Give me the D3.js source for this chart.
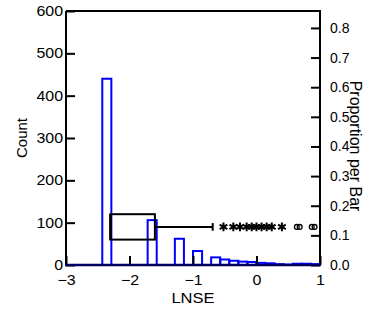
<!DOCTYPE html>
<html>
<head>
<meta charset="utf-8">
<script src="https://cdn.jsdelivr.net/npm/d3@7"></script>
<style>
  html, body { margin: 0; padding: 0; background: #fff; }
  svg { display: block; }
  text { font-family: "Liberation Sans", Arial, sans-serif; fill: #000; }
</style>
</head>
<body>
<svg id="chart" width="366" height="309"></svg>
<script>
// ---- data ----
const binWidth = 1 / 7;
const binStarts = [-2.4286, -1.7143, -1.2857, -1.0, -0.7143, -0.5714, -0.4286, -0.2857, -0.1429, 0.0, 0.1429, 0.2857, 0.4286, 0.5714, 0.7143, 0.8571];
const counts    = [440, 106, 62, 33, 18, 13, 10, 8, 7, 5, 4, 2, 1, 3, 3, 2];
const sampleSize = [700];
const xTicks = [-3, -2, -1, 0, 1];
const countTicks = [0, 100, 200, 300, 400, 500, 600];
const propTicks = [0.0, 0.1, 0.2, 0.3, 0.4, 0.5, 0.6, 0.7, 0.8];
const boxQuartiles = [-2.30, -2.30, -1.60];   // Q1, median, Q3
const whiskerEnds = [-2.30, -0.69];
const outsideValues = [-0.52, -0.365, -0.26, -0.155, -0.075, 0.0, 0.08, 0.16, 0.24, 0.40];
const farOutsideValues = [0.635, 0.68, 0.87, 0.915];

// ---- layout ----
const L = 66, R = 320, T = 11, B = 265;
const svg = d3.select("#chart");

const x = d3.scaleLinear().domain([-3, 1]).range([L, R]);
const y = d3.scaleLinear().domain([0, 600]).range([B, T]);
const yp = d3.scaleLinear().domain([0, 600 / sampleSize[0]]).range([B, T]);

// bars
svg.append("g").selectAll("rect").data(binStarts).join("rect")
  .attr("x", d => x(d))
  .attr("width", d => x(d + binWidth) - x(d))
  .attr("y", (d, i) => y(counts[i]))
  .attr("height", (d, i) => B - y(counts[i]))
  .attr("fill", "none")
  .attr("stroke", "#0000ff")
  .attr("stroke-width", 2);

// frame / axes
const axisStroke = 2;
function styleAxis(stretch) {
  return g => {
    g.select(".domain").remove();
    g.selectAll(".tick line").attr("stroke", "#000").attr("stroke-width", axisStroke);
    g.selectAll(".tick text")
      .style("font-family", '"Liberation Sans", Arial, sans-serif')
      .style("font-size", "14px").attr("fill", "#000")
      .attr("transform", `scale(${stretch},1)`);
  };
}
svg.append("g").attr("transform", `translate(0,${B})`)
  .call(d3.axisBottom(x).tickValues(xTicks).tickFormat(d3.format("d")).tickSizeInner(-9).tickSizeOuter(0).tickPadding(10))
  .call(styleAxis(1.14));
svg.append("g").attr("transform", `translate(${L},0)`)
  .call(d3.axisLeft(y).tickValues(countTicks).tickSizeInner(-9).tickSizeOuter(0).tickPadding(2.6))
  .call(styleAxis(1.14));
svg.append("g").attr("transform", `translate(${R},0)`)
  .call(d3.axisRight(yp).tickValues(propTicks).tickFormat(d3.format(".1f")).tickSizeInner(-9).tickSizeOuter(0).tickPadding(10))
  .call(styleAxis(1.0));

svg.append("path")
  .attr("d", `M${L},${T}H${R}V${B}M${L},${B}V${T}`)
  .attr("fill", "none").attr("stroke", "#000").attr("stroke-width", axisStroke);
svg.append("line").attr("x1", L - 1).attr("x2", R + 1).attr("y1", B).attr("y2", B)
  .attr("stroke", "#000060").attr("stroke-width", 2.5);

// box plot
const boxLo = 60, boxHi = 120, boxMid = 90, capHalf = 9;
const bp = svg.append("g").attr("fill", "none").attr("stroke", "#000").attr("stroke-width", 2);
bp.append("rect")
  .attr("x", x(boxQuartiles[0])).attr("width", x(boxQuartiles[2]) - x(boxQuartiles[0]))
  .attr("y", y(boxHi)).attr("height", y(boxLo) - y(boxHi));
bp.append("line").attr("x1", x(boxQuartiles[1])).attr("x2", x(boxQuartiles[1]))
  .attr("y1", y(boxHi)).attr("y2", y(boxLo)).attr("stroke-width", 2.5);
bp.append("line").attr("x1", x(boxQuartiles[2])).attr("x2", x(whiskerEnds[1]))
  .attr("y1", y(boxMid)).attr("y2", y(boxMid));
bp.append("line").attr("x1", x(whiskerEnds[1])).attr("x2", x(whiskerEnds[1]))
  .attr("y1", y(boxMid + capHalf)).attr("y2", y(boxMid - capHalf));

const star = d3.symbol().type(d3.symbolAsterisk).size(55);
svg.append("g").selectAll("path").data(outsideValues).join("path")
  .attr("transform", d => `translate(${x(d)},${y(boxMid)})`)
  .attr("d", star)
  .attr("fill", "none").attr("stroke", "#000").attr("stroke-width", 2);
svg.append("g").selectAll("circle").data(farOutsideValues).join("circle")
  .attr("cx", d => x(d)).attr("cy", y(boxMid)).attr("r", 2.4)
  .attr("fill", "none").attr("stroke", "#000").attr("stroke-width", 1.3);

// axis titles
svg.append("text").attr("x", x(-1)).attr("y", 303).attr("text-anchor", "middle")
  .attr("transform", `translate(${x(-1)},0) scale(1.14,1) translate(${-x(-1)},0)`)
  .style("font-size", "14.5px").text("LNSE");
svg.append("text").attr("transform", `translate(27,138) rotate(-90)`)
  .attr("text-anchor", "middle").style("font-size", "15px").text("Count");
svg.append("text").attr("transform", `translate(350,146) rotate(90)`)
  .attr("text-anchor", "middle").style("font-size", "16px").text("Proportion per Bar");
</script>
</body>
</html>
